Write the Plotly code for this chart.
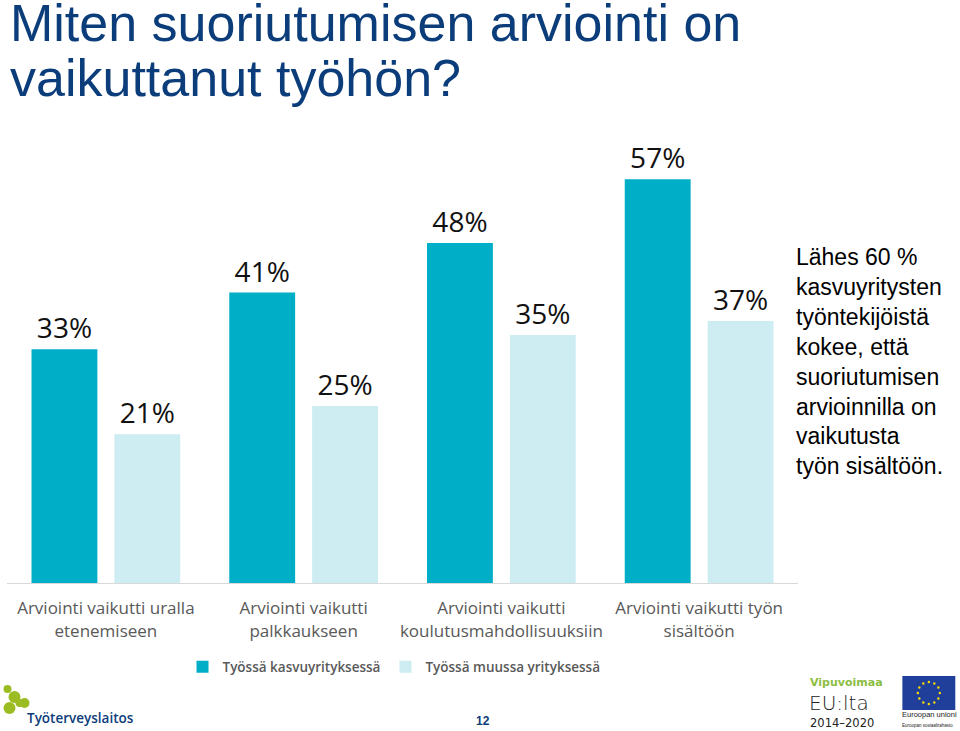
import math
import plotly.graph_objects as go

categories = [
    "Arviointi vaikutti uralla<br>etenemiseen",
    "Arviointi vaikutti<br>palkkaukseen",
    "Arviointi vaikutti<br>koulutusmahdollisuuksiin",
    "Arviointi vaikutti työn<br>sisältöön",
]
series_names = ["Työssä kasvuyrityksessä", "Työssä muussa yrityksessä"]
growth_values = [33, 41, 48, 57]
other_values = [21, 25, 35, 37]
colors = ["#00aec8", "#cdedf2"]

W, H = 960, 731
ML, MR, MT, MB = 6.5, 161.5, 158, 148
PW = W - ML - MR
PH = H - MT - MB


def px(x):
    return (x - ML) / PW


def py(y):
    return (H - MB - y) / PH


fig = go.Figure()
for name, vals, col in zip(series_names, [growth_values, other_values], colors):
    fig.add_trace(go.Bar(
        x=categories, y=vals, name=name, marker=dict(color=col, line=dict(width=0)),
        texttemplate="%{y}%", textposition="outside", cliponaxis=False,
        textfont=dict(family="Open Sans", size=28, color="#111111"),
        constraintext="none",
    ))


def note(text, x, y, size, color, family="Liberation Sans", weight=None, xanchor="left", align="left"):
    f = dict(family=family, size=size, color=color)
    if weight:
        f["weight"] = weight
    return dict(text=text, x=px(x), y=py(y), xref="paper", yref="paper", xanchor=xanchor,
                yanchor="middle", align=align, showarrow=False, font=f, borderpad=0)


annotations = []
annotations.append(note("Miten suoriutumisen arviointi on", 9, 23, 52, "#0c3d7b"))
annotations.append(note("vaikuttanut työhön?", 9, 78, 52, "#0c3d7b"))
side_text = ("Lähes 60 %<br>kasvuyritysten<br>työntekijöistä<br>kokee, että<br>"
             "suoriutumisen<br>arvioinnilla on<br>vaikutusta<br>työn sisältöön.")
annotations.append(note(side_text, 795, 361, 23, "#000000"))
annotations.append(note("<b>12</b>", 483, 721, 12, "#0c3d7b", xanchor="center"))
annotations.append(note("Työterveyslaitos", 26, 718, 13.5, "#0c3d7b", family="Open Sans", weight=600))
annotations.append(note("<b>Vipuvoimaa</b>", 810, 682, 11, "#8cbd3f", family="DejaVu Sans"))
annotations.append(note("EU:lta", 809, 702.5, 20, "#222222", family="DejaVu Sans", weight=300))
annotations.append(note("2014–2020", 810, 723, 11.5, "#222222", family="DejaVu Sans"))
annotations.append(note("Euroopan unioni<br><span style='font-size:4.5px'>Euroopan sosiaalirahasto</span>",
                        902, 719, 7.5, "#222222"))

shapes = []
# EU flag
shapes.append(dict(type="rect", xref="paper", yref="paper", x0=px(903), x1=px(956),
                   y0=py(676), y1=py(710), fillcolor="#1f3f9a", line=dict(width=0)))
cx, cy, r = 929.5, 693, 11
for k in range(12):
    a = 2 * math.pi * k / 12
    sx, sy = cx + r * math.cos(a), cy + r * math.sin(a)
    shapes.append(dict(type="circle", xref="paper", yref="paper", x0=px(sx - 1.2), x1=px(sx + 1.2),
                       y0=py(sy - 1.2), y1=py(sy + 1.2), fillcolor="#ffdd00", line=dict(width=0)))
# Työterveyslaitos logo blob
for (bx, by, br) in [(7, 689, 4), (14, 697, 6), (9, 708, 6), (24, 703, 5), (19, 703, 4)]:
    shapes.append(dict(type="circle", xref="paper", yref="paper", x0=px(bx - br), x1=px(bx + br),
                       y0=py(by - br), y1=py(by + br), fillcolor="#9cbc24", line=dict(width=0)))

fig.update_layout(
    width=W, height=H,
    margin=dict(l=ML, r=MR, t=MT, b=MB, autoexpand=False),
    plot_bgcolor="white", paper_bgcolor="white",
    barmode="group", bargap=0.162, bargroupgap=0.205,
    showlegend=True,
    legend=dict(orientation="h", x=px(394), xanchor="center", y=py(667), yanchor="middle",
                font=dict(family="Open Sans", size=13.5, color="#595959", weight=600),
                itemwidth=30, traceorder="normal"),
    annotations=annotations, shapes=shapes,
    xaxis=dict(showgrid=False, showline=True, linecolor="#d9d9d9", linewidth=1,
               ticks="", ticklabelstandoff=10,
               tickfont=dict(family="Open Sans", size=17, color="#595959"),
               automargin=False),
    yaxis=dict(range=[0, 60], visible=False, showgrid=False),
    font=dict(family="Open Sans"),
)

fig.write_html("out.html")
